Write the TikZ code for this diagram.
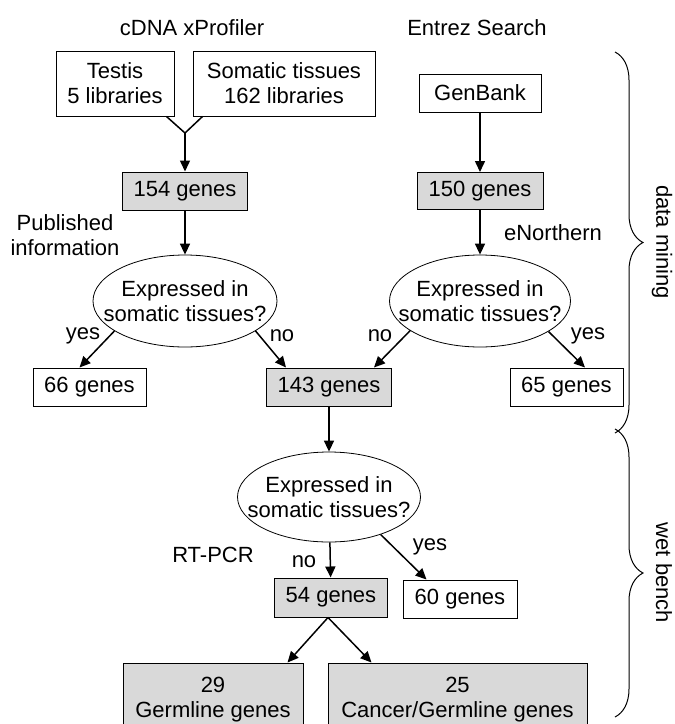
\documentclass[tikz,border=0pt]{standalone}
\usepackage{fontspec}
\setmainfont{Liberation Sans}
\usetikzlibrary{arrows.meta,shapes.geometric,decorations.pathreplacing}
\tikzset{
  box/.style={draw, line width=1pt, inner sep=0pt, align=center},
  graybox/.style={box, fill=black!15},
  question/.style={draw, ellipse, line width=0.8pt, inner sep=0pt,
    label={[align=center]center:Expressed in\\somatic tissues?}},
  flow/.style={line width=1.5pt, -{Triangle[length=11pt,width=10pt]}},
  bracket/.style={decorate, decoration={brace, amplitude=28pt}, line width=1pt}
}

\begin{document}
\begin{tikzpicture}[x=1pt, y=-1pt, font=\fontsize{22}{25}\selectfont]
			%%%%% START %%%%%
			\useasboundingbox (0, 0) rectangle (675, 724);
			
			\node (xprof) at (192, 28) {cDNA xProfiler};
			\node (entrez) at (477, 28) {Entrez Search};
			
			\node[box, minimum width=118pt, minimum height=65pt] (testis) at (115, 83.5) {Testis\\5 libraries};
			\node[box, minimum width=182pt, minimum height=65pt] (somatic) at (284, 83.5) {Somatic tissues\\162 libraries};
			\node[box, minimum width=122pt, minimum height=38pt] (genbank) at (480, 93) {GenBank};
			
			\coordinate (merge) at (185, 133);
			\draw[line width=1.5pt] ([xshift=-8pt]testis.south east) -- (merge) -- ([xshift=10pt]somatic.south west);
			
			\node[graybox, minimum width=125pt, minimum height=38pt] (g154) at (185, 191) {154 genes};
			\node[graybox, minimum width=126pt, minimum height=37pt] (g150) at (480, 191) {150 genes};
			
			\node[align=center] (pubinfo) at (65, 235) {Published\\information};
			\node (enorth) at (553, 233) {eNorthern};
			
			\node[question, minimum width=184pt, minimum height=92pt] (askL) at (185, 301) {};
			\node[question, minimum width=181pt, minimum height=92pt] (askR) at (480, 301) {};
			
			\node[box, minimum width=113pt, minimum height=38pt] (g66) at (89.5, 387) {66 genes};
			\node[graybox, minimum width=125pt, minimum height=38pt] (g143) at (329, 387) {143 genes};
			\node[box, minimum width=113pt, minimum height=38pt] (g65) at (566.5, 387) {65 genes};
			
			\node (yesL) at (83, 336) {yes};
			\node (noL) at (282, 336) {no};
			\node (noR) at (380, 336) {no};
			\node (yesR) at (588, 336) {yes};
			
			\node[question, minimum width=183pt, minimum height=90pt] (askW) at (329, 497) {};
			
			\node (rtpcr) at (213, 555) {RT-PCR};
			\node (noW) at (304, 562) {no};
			\node (yesW) at (430, 547) {yes};
			
			\node[graybox, minimum width=113pt, minimum height=39pt] (g54) at (331, 597.5) {54 genes};
			\node[box, minimum width=114pt, minimum height=38pt] (g60) at (460, 599) {60 genes};
			
			\node[graybox, minimum width=180pt, minimum height=74pt] (germ) at (213, 700) {29\\Germline genes};
			\node[graybox, minimum width=259pt, minimum height=74pt] (cancer) at (457.5, 700) {25\\Cancer/Germline genes};
			
			\draw[flow] (merge) -- (g154);
			\draw[flow] (genbank) -- (g150);
			\draw[flow] (g154) -- (askL);
			\draw[flow] (g150) -- (askR);
			
			\draw[flow] (askL.203) -- ([xshift=-10pt]g66.north);
			\draw[flow] (askL.337) -- ([xshift=20pt]g143.north west);
			\draw[flow] (askR.203) -- ([xshift=-18pt]g143.north east);
			\draw[flow] (askR.336) -- ([xshift=18.5pt]g65.north);
			
			\draw[flow] (g143) -- (askW);
			\draw[flow] (askW) -- (g54);
			\draw[flow] (askW.324) -- ([xshift=24pt]g60.north west);
			
			\draw[flow] ([xshift=-3pt]g54.south) -- ([xshift=-16pt]germ.north east);
			\draw[flow] ([xshift=-3pt]g54.south) -- ([xshift=44pt]cancer.north west);
			
			\draw[bracket] (615, 52) -- (615, 433);
			\draw[bracket] (615, 429) -- (615, 717);
			\node[rotate=-90] (mining) at (662, 242) {data mining};
			\node[rotate=-90] (bench) at (664, 573) {wet bench};
			
			%%%%% END %%%%%
\end{tikzpicture}
\end{document}
